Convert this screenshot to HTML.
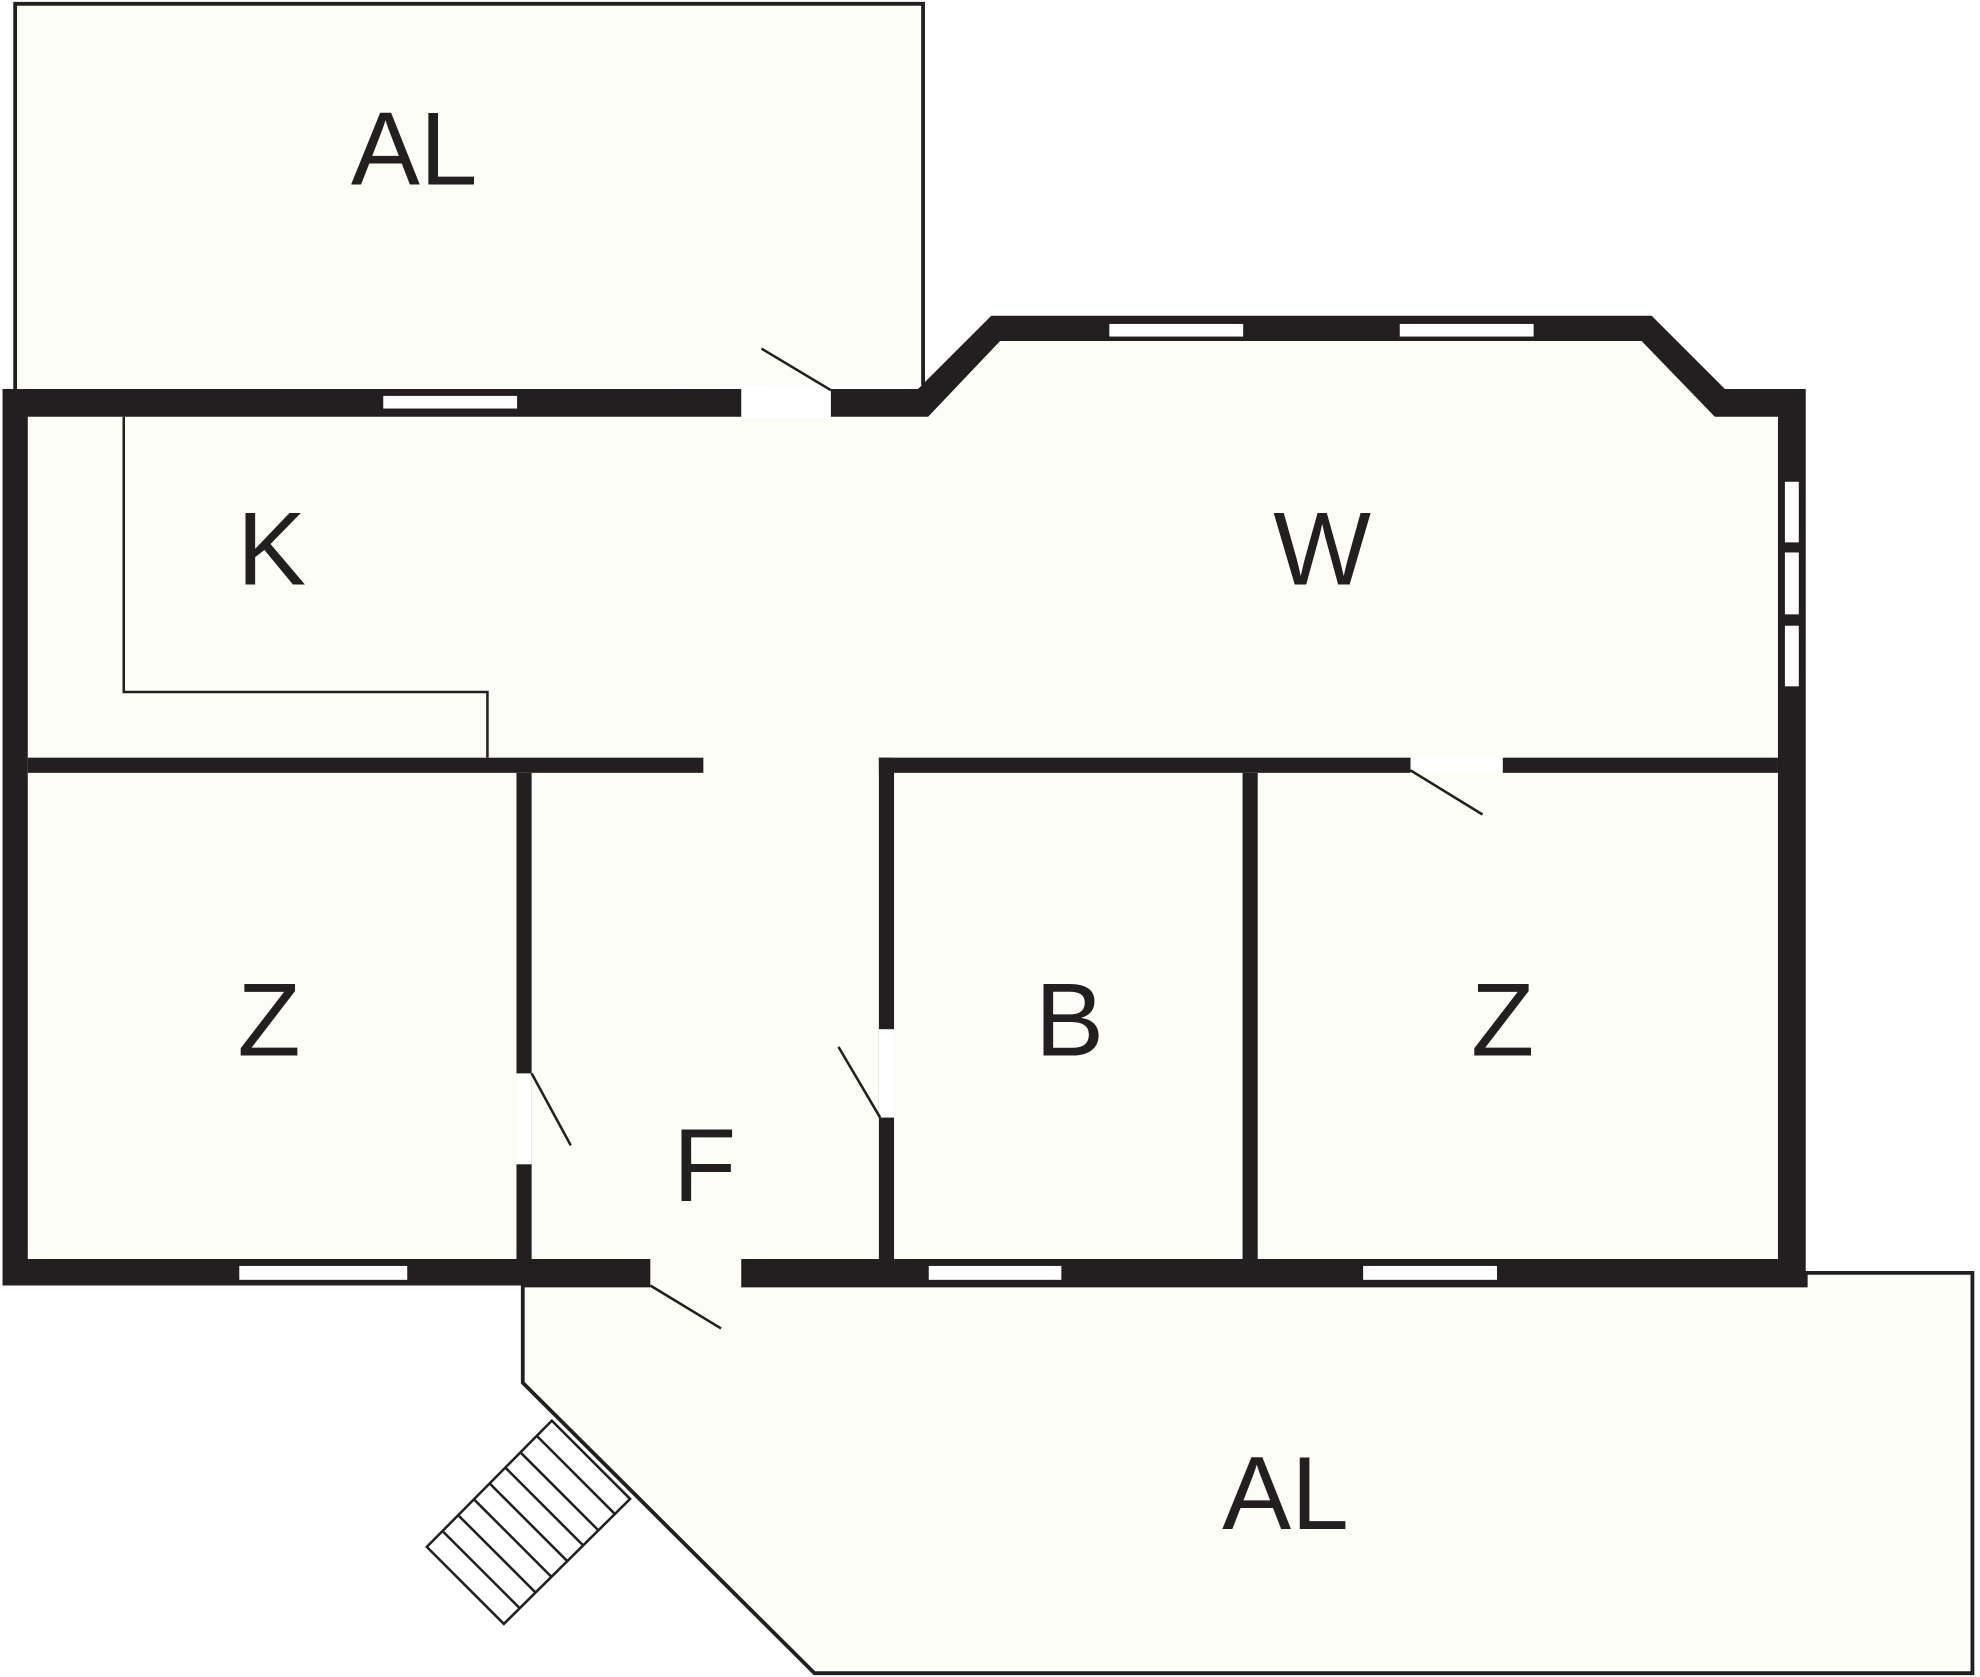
<!DOCTYPE html>
<html><head><meta charset="utf-8"><style>
html,body{margin:0;padding:0;background:#fff;}
svg{display:block;}
text{font-family:"Liberation Sans",sans-serif;fill:#231f20;}
</style></head><body>
<svg width="1980" height="1677" viewBox="0 0 1568 1328" xmlns="http://www.w3.org/2000/svg">
<polyline points="12,308 12,3 731,3 731,305" fill="#fdfdf8" stroke="#231f20" stroke-width="3"/>
<polygon points="414,1018 414,1095 645,1325 1562,1325 1562,1008 1430,1008 1430,1018" fill="#fdfdf8" stroke="#231f20" stroke-width="3"/>
<polygon points="22,330 735,330 792,270 1300,270 1358,330 1408,330 1408,997 22,997" fill="#fdfdf8"/>
<path fill-rule="evenodd" fill="#231f20" d="M2,308 L727,308 L785,250 L1308,250 L1366,308 L1430,308 L1430,1018 L2,1018 Z M22,330 L735,330 L792,270 L1300,270 L1358,330 L1408,330 L1408,997 L22,997 Z"/>
<g fill="#231f20">
<rect x="22" y="600" width="535" height="12"/>
<rect x="696" y="600" width="421" height="12"/>
<rect x="1190" y="600" width="218" height="12"/>
<rect x="409" y="612" width="12" height="385"/>
<rect x="696" y="600" width="12" height="397"/>
<rect x="984" y="612" width="12" height="385"/>
</g>
<g fill="#fff" stroke="#231f20" stroke-width="1">
<rect x="303" y="313" width="107" height="11"/>
<rect x="878" y="256" width="107" height="11"/>
<rect x="1108" y="256" width="107" height="11"/>
<rect x="1413" y="381" width="12" height="49"/>
<rect x="1413" y="437" width="12" height="50"/>
<rect x="1413" y="495" width="12" height="49"/>
<rect x="189" y="1002" width="134" height="12"/>
<rect x="735" y="1002" width="106" height="12"/>
<rect x="1079" y="1002" width="107" height="12"/>
</g>
<rect x="587" y="307" width="71" height="24" fill="#fff"/>
<rect x="515" y="996" width="72" height="24" fill="#fdfdf8"/>
<rect x="515" y="996" width="72" height="2" fill="#fdfdf8"/>
<g fill="#fff">
<rect x="409" y="850" width="12" height="72"/>
<rect x="696" y="815" width="12" height="70"/>
<rect x="1117" y="600" width="73" height="12"/>
</g>
<g stroke="#231f20" stroke-width="2">
<line x1="603" y1="276" x2="658" y2="309"/>
<line x1="515" y1="1018" x2="571" y2="1052"/>
<line x1="421" y1="850" x2="452" y2="907"/>
<line x1="697" y1="885" x2="664" y2="829"/>
<line x1="1117" y1="610" x2="1174" y2="645"/>
</g>
<polyline points="98,330 98,548 386,548 386,600" fill="none" stroke="#231f20" stroke-width="2"/>
<g stroke="#231f20" stroke-width="2" fill="#fff">
<polygon points="338,1225 437,1125 499,1187 399,1286"/>
<line x1="350" y1="1212" x2="412" y2="1274"/>
<line x1="363" y1="1200" x2="424" y2="1261"/>
<line x1="375" y1="1187" x2="437" y2="1249"/>
<line x1="388" y1="1175" x2="449" y2="1236"/>
<line x1="400" y1="1162" x2="462" y2="1224"/>
<line x1="412" y1="1150" x2="474" y2="1212"/>
<line x1="425" y1="1137" x2="487" y2="1199"/>
</g>
<g font-size="82" text-anchor="middle">
<text x="328" y="146">AL</text>
<text x="215" y="463">K</text>
<text x="1047" y="463">W</text>
<text x="213" y="836">Z</text>
<text x="558" y="951">F</text>
<text x="847" y="836">B</text>
<text x="1190" y="836">Z</text>
<text x="1018" y="1211">AL</text>
</g>
</svg>
</body></html>
